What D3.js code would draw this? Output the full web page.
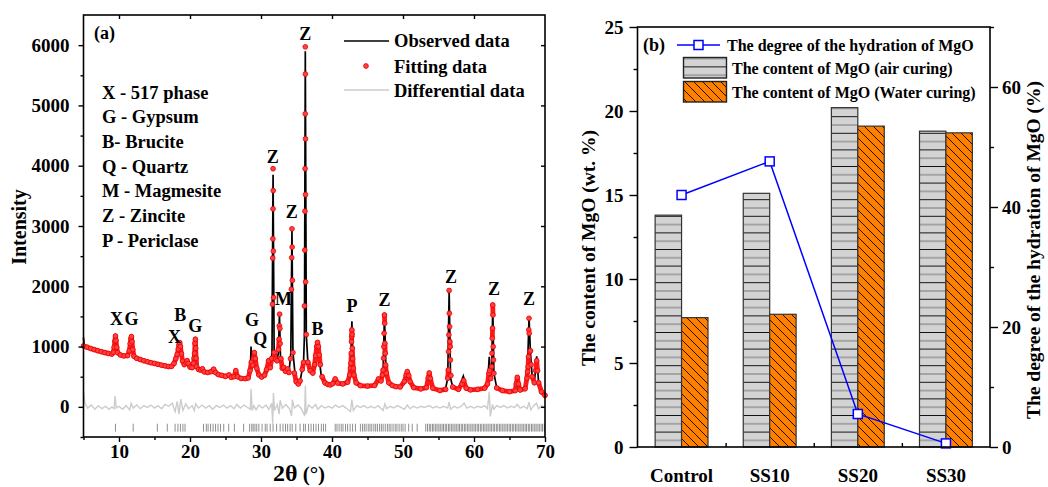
<!DOCTYPE html>
<html>
<head>
<meta charset="utf-8">
<script src="https://d3js.org/d3.v7.min.js"></script>
<style>
  body { margin: 0; background: #fff; }
  svg { display: block; }
  text { font-family: "Liberation Serif", "Times New Roman", serif; font-weight: bold; fill: #000; }
  .axis text { font-size: 19px; }
  .axis path { display: none; }
  .axis line { stroke: #000; stroke-width: 1.4; }
</style>
</head>
<body>
<div id="chart"></div>
<script>
// ---------- panel (a): XRD pattern ----------
var observed = [[5.0,1150],[5.1,1020],[5.5,995],[6.0,975],[6.3,940],[6.5,960],[7.0,935],[7.3,910],[7.5,925],[8.0,905],[8.3,880],[8.5,895],[9.0,880],[9.2,920],[9.4,1130],[9.5,1160],[9.6,1120],[9.8,905],[10.2,865],[10.5,840],[10.8,855],[11.3,880],[11.5,1100],[11.7,1160],[11.85,1100],[12.1,845],[12.5,810],[12.8,780],[13.0,795],[13.5,772],[13.8,750],[14.0,758],[14.5,742],[15.0,738],[15.3,715],[15.5,722],[16.0,708],[16.5,703],[16.8,680],[17.0,692],[17.5,700],[17.9,780],[18.2,900],[18.5,1060],[18.7,1000],[18.9,780],[19.3,720],[19.55,780],[19.8,690],[20.3,650],[20.6,900],[20.75,1160],[20.9,880],[21.2,640],[21.5,640],[21.7,630],[22.0,590],[22.5,580],[23.0,590],[23.3,620],[23.6,580],[24.0,540],[24.5,530],[25.0,510],[25.5,540],[25.8,500],[26.2,510],[26.5,590],[26.8,500],[27.3,480],[27.8,480],[28.2,490],[28.5,600],[28.6,1000],[28.7,620],[28.95,760],[29.1,880],[29.3,760],[29.6,540],[30.0,500],[30.5,540],[30.8,620],[31.1,740],[31.3,640],[31.55,900],[31.7,3850],[31.85,900],[32.1,780],[32.25,760],[32.45,900],[32.6,1540],[32.75,800],[33.0,640],[33.2,660],[33.4,600],[33.7,640],[33.95,580],[34.2,900],[34.36,2950],[34.5,900],[34.8,540],[35.0,400],[35.25,380],[35.5,420],[35.8,620],[36.0,760],[36.12,1200],[36.24,5900],[36.38,1200],[36.6,740],[36.9,600],[37.3,560],[37.7,800],[37.95,1060],[38.2,800],[38.5,500],[39.0,400],[39.5,370],[40.0,380],[40.45,450],[40.8,390],[41.5,380],[42.2,420],[42.6,600],[42.8,1420],[43.0,600],[43.4,400],[44.0,360],[45.0,350],[46.0,360],[46.55,450],[46.9,420],[47.2,600],[47.39,1530],[47.6,600],[48.0,400],[48.5,360],[49.0,340],[49.8,350],[50.3,430],[50.6,570],[50.9,440],[51.5,330],[52.5,300],[53.3,320],[53.7,540],[54.0,330],[55.0,290],[56.0,300],[56.3,480],[56.5,1920],[56.7,480],[57.0,330],[57.8,300],[58.5,510],[58.9,320],[59.5,290],[60.5,300],[61.5,320],[61.9,380],[62.15,830],[62.35,450],[62.5,600],[62.64,1690],[62.8,560],[63.2,320],[64.0,280],[65.0,260],[65.8,280],[66.1,470],[66.4,290],[67.2,300],[67.5,480],[67.75,1480],[67.95,900],[68.2,500],[68.5,400],[68.83,840],[69.1,400],[69.5,260],[70.0,200]];

var fitted = [[5.0,1010],[5.5,990],[6.0,968],[6.5,950],[7.0,932],[7.5,915],[8.0,900],[8.5,886],[9.0,875],[9.2,905],[9.32,990],[9.42,1090],[9.5,1175],[9.58,1100],[9.68,990],[9.8,900],[10.2,860],[10.7,845],[11.2,850],[11.45,930],[11.58,1050],[11.68,1130],[11.75,1165],[11.83,1080],[11.95,950],[12.1,840],[12.5,805],[13.0,785],[13.5,765],[14.0,748],[14.5,732],[15.0,720],[15.5,706],[16.0,692],[16.5,680],[17.0,668],[17.4,672],[17.75,720],[18.0,800],[18.2,870],[18.35,960],[18.45,1030],[18.55,1065],[18.65,1000],[18.8,880],[18.95,760],[19.2,700],[19.45,730],[19.6,765],[19.75,720],[20.0,660],[20.3,650],[20.5,723],[20.58,806],[20.65,889],[20.7,1055],[20.76,1121],[20.8,972],[20.86,806],[20.93,667],[21.2,620],[21.5,610],[21.75,630],[22.0,580],[22.5,570],[23.0,585],[23.33,625],[23.6,570],[24.0,535],[24.5,522],[25.0,505],[25.5,530],[25.8,490],[26.2,500],[26.45,600],[26.7,500],[27.2,472],[27.8,468],[28.2,480],[28.45,600],[28.64,740],[28.82,690],[28.95,800],[29.06,900],[29.2,800],[29.4,640],[29.7,530],[30.1,495],[30.5,525],[30.8,620],[31.07,765],[31.3,650],[31.5,800],[31.62,1702],[31.65,2468],[31.67,2788],[31.69,3284],[31.7,3950],[31.72,3587],[31.74,2584],[31.77,1813],[31.85,900],[32.05,790],[32.25,765],[32.45,950],[32.55,1124],[32.58,1344],[32.62,1537],[32.66,1300],[32.7,1050],[32.8,800],[33.0,640],[33.2,656],[33.45,590],[33.75,628],[33.95,570],[34.15,800],[34.28,1950],[34.32,2474],[34.36,2953],[34.39,2650],[34.42,2099],[34.5,900],[34.7,560],[34.95,420],[35.25,380],[35.5,430],[35.8,620],[36.0,738],[36.12,1674],[36.17,2600],[36.19,3245],[36.21,3950],[36.23,4860],[36.24,5972],[36.25,5520],[36.26,4446],[36.27,3520],[36.29,2072],[36.38,1200],[36.6,740],[36.93,600],[37.3,560],[37.55,700],[37.7,850],[37.85,1000],[37.96,1069],[38.08,1000],[38.2,860],[38.35,700],[38.6,500],[39.0,400],[39.4,372],[39.75,364],[40.1,385],[40.45,463],[40.8,395],[41.5,380],[42.2,410],[42.5,529],[42.6,640],[42.66,723],[42.72,889],[42.75,1082],[42.78,1165],[42.8,1276],[42.83,1200],[42.86,972],[42.92,800],[43.0,640],[43.1,529],[43.4,400],[44.0,352],[45.0,345],[46.0,355],[46.55,463],[46.9,430],[47.1,529],[47.2,612],[47.26,806],[47.3,998],[47.34,1220],[47.39,1524],[47.42,1386],[47.45,1054],[47.5,889],[47.56,695],[47.65,560],[48.0,400],[48.5,355],[49.0,335],[49.6,330],[50.2,420],[50.45,530],[50.6,584],[50.8,520],[51.0,420],[51.5,320],[52.5,298],[53.3,320],[53.55,480],[53.7,562],[53.85,470],[54.2,310],[55.2,272],[56.0,290],[56.3,474],[56.38,612],[56.42,916],[56.46,1193],[56.5,1930],[56.53,1552],[56.56,1330],[56.6,1082],[56.64,998],[56.68,778],[56.75,520],[57.0,330],[57.8,290],[58.3,380],[58.55,435],[58.9,310],[59.5,282],[60.5,290],[61.5,310],[61.9,380],[62.1,557],[62.2,600],[62.35,470],[62.48,667],[62.54,889],[62.58,1137],[62.61,1303],[62.64,1690],[62.67,1524],[62.7,998],[62.74,778],[62.8,557],[63.2,314],[64.0,270],[65.0,252],[65.8,270],[65.95,380],[66.1,490],[66.25,380],[66.5,280],[67.2,300],[67.45,474],[67.55,584],[67.62,667],[67.68,832],[67.72,1276],[67.75,1469],[67.78,1220],[67.85,916],[67.95,930],[68.05,700],[68.2,500],[68.5,400],[68.7,600],[68.83,766],[68.95,600],[69.1,400],[69.5,250],[70.0,190]];

var difference = [[5.0,250],[5.2,60],[5.6,-20],[6.1,30],[6.6,-40],[7.1,20],[7.6,-30],[8.1,10],[8.6,-40],[9.0,0],[9.3,-30],[9.45,180],[9.6,-20],[10.0,10],[10.5,-40],[11.0,20],[11.5,-50],[11.7,60],[12.0,-20],[12.5,30],[13.0,-30],[13.5,20],[14.0,-10],[14.5,30],[15.0,-20],[15.5,20],[16.0,-30],[16.5,40],[17.0,10],[17.5,60],[17.9,-80],[18.2,90],[18.45,-120],[18.7,130],[19.0,-60],[19.4,50],[19.8,-30],[20.3,20],[20.6,-60],[20.8,50],[21.2,-20],[21.7,30],[22.2,-20],[22.7,20],[23.2,-40],[23.7,20],[24.2,-10],[24.7,30],[25.2,-20],[25.7,20],[26.2,-30],[26.6,40],[27.1,-20],[27.6,30],[28.1,-10],[28.5,-40],[28.6,300],[28.75,-60],[29.0,20],[29.3,-50],[29.7,30],[30.2,-20],[30.7,30],[31.1,-40],[31.5,60],[31.65,-280],[31.75,230],[31.9,-60],[32.3,40],[32.55,-120],[32.7,110],[33.0,-20],[33.5,40],[34.0,-30],[34.3,-150],[34.42,120],[34.7,-20],[35.2,30],[35.7,-30],[36.15,-150],[36.25,350],[36.35,-120],[36.7,30],[37.2,-20],[37.7,40],[38.0,-40],[38.5,20],[39.0,-20],[39.5,10],[40.0,-20],[40.5,30],[41.0,-10],[41.5,20],[42.0,-20],[42.6,-80],[42.8,120],[43.0,-60],[43.5,20],[44.0,-10],[44.5,20],[45.0,-20],[45.5,10],[46.0,-20],[46.5,20],[47.2,-60],[47.45,50],[47.7,-30],[48.2,10],[48.7,-20],[49.2,20],[49.7,-10],[50.2,-40],[50.6,30],[51.0,-30],[51.5,10],[52.0,-20],[52.5,10],[53.0,-10],[53.7,20],[54.2,-20],[54.7,10],[55.2,-20],[55.7,10],[56.3,-20],[56.5,80],[56.7,-40],[57.2,10],[57.7,-20],[58.2,10],[58.6,60],[59.0,-20],[59.5,10],[60.0,-20],[60.5,10],[61.0,-10],[61.5,20],[61.9,-30],[62.15,250],[62.3,-160],[62.6,40],[62.8,-40],[63.2,20],[63.7,-10],[64.2,20],[64.7,-20],[65.2,10],[65.7,-10],[66.1,40],[66.5,-20],[67.0,10],[67.5,-30],[67.75,80],[68.0,-50],[68.4,20],[68.8,60],[69.1,-30],[69.5,20],[70.0,-10]];

var braggPositions = [9.5,12.0,15.4,16.8,17.9,18.3,18.65,19.0,19.3,21.9,22.3,22.55,22.9,23.25,23.6,23.95,24.3,24.75,25.45,26.25,27.55,28.4,28.7,28.9,29.15,29.4,29.7,30.15,30.6,30.85,31.3,31.7,32.2,32.7,33.1,33.45,33.75,34.1,34.4,34.9,35.5,36.0,36.25,36.7,37.05,37.4,37.75,38.1,38.5,38.8,39.1,40.45,40.7,41.0,41.3,41.55,41.9,42.2,42.55,42.9,43.3,44.0,44.3,44.55,44.8,45.1,45.35,45.6,45.9,46.15,46.4,46.7,46.95,47.2,47.5,47.8,48.05,48.3,48.6,48.9,49.15,49.45,49.75,50.0,50.3,50.8,51.3,52.0,53.2,53.45,53.7,53.9,54.15,54.35,54.6,54.8,55.05,55.25,55.5,55.7,55.95,56.15,56.4,56.6,56.85,57.05,57.3,57.5,57.75,57.95,58.2,58.4,58.65,58.85,59.1,59.3,59.55,59.75,60.0,60.2,60.45,60.65,60.9,61.1,61.35,61.55,61.8,62.0,62.25,62.45,62.7,62.9,63.15,63.35,63.6,63.8,64.05,64.25,64.5,64.7,64.95,65.15,65.4,65.6,65.85,66.05,66.3,66.5,66.75,66.95,67.2,67.4,67.65,67.85,68.1,68.3,68.55,68.75,69.0,69.2,69.45,69.65,69.9];

var xTicksA = [10, 20, 30, 40, 50, 60, 70];
var yTicksA = [0, 1000, 2000, 3000, 4000, 5000, 6000];

var phaseKey = ["X - 517 phase", "G - Gypsum", "B- Brucite", "Q - Quartz", "M - Magmesite", "Z - Zincite", "P - Periclase"];
// peak letters placed at [2theta, intensity of the baseline]
var peakLabels = [["Z",36.23,6080],["Z",31.67,4045],["Z",34.34,3128],["M",33.17,1690],["X",9.64,1358],["G",11.75,1358],
  ["B",18.64,1430],["X",17.8,1065],["G",20.75,1247],["G",28.73,1342],["Q",29.9,1027],["B",37.96,1193],
  ["P",42.8,1579],["Z",47.39,1673],["Z",56.77,2055],["Z",62.82,1856],["Z",67.75,1690]];

// ---------- panel (b): MgO content ----------
var samples = ["Control", "SS10", "SS20", "SS30"];
var mgoAir = [13.8, 15.1, 20.2, 18.8];
var mgoWater = [7.7, 7.9, 19.1, 18.7];
var hydration = [42.0, 47.6, 5.5, 0.6];
var yTicksB = [0, 5, 10, 15, 20, 25];
var y2TicksB = [0, 20, 40, 60];

var W = 1048, H = 487;
var svg = d3.select("#chart").append("svg").attr("width", W).attr("height", H);

var defs = svg.append("defs");
var pAir = defs.append("pattern").attr("id", "hatchAir").attr("patternUnits", "userSpaceOnUse")
  .attr("width", 10).attr("height", 16.6);
pAir.append("rect").attr("width", 10).attr("height", 16.6).attr("fill", "#d3d3d3");
pAir.append("line").attr("x1", 0).attr("x2", 10).attr("y1", 0.5).attr("y2", 0.5).attr("stroke", "#111").attr("stroke-width", 1);
pAir.append("line").attr("x1", 0).attr("x2", 10).attr("y1", 8.8).attr("y2", 8.8).attr("stroke", "#777").attr("stroke-width", 1);
var pWat = defs.append("pattern").attr("id", "hatchWater").attr("patternUnits", "userSpaceOnUse")
  .attr("width", 9).attr("height", 9);
pWat.append("rect").attr("width", 9).attr("height", 9).attr("fill", "#ff8000");
pWat.append("path").attr("d", "M0,0L9,9M-3,6L3,12M6,-3L12,3").attr("stroke", "#000").attr("stroke-width", 0.9);

// ===== panel (a) =====
var A = {left: 83.5, right: 545, top: 15, bottom: 437};
var xA = d3.scaleLinear().domain([5, 70]).range([A.left, A.right]);
var yA = d3.scaleLinear().domain([-500, 6500]).range([A.bottom, A.top]);
var gA = svg.append("g");

// bragg positions
gA.append("g").selectAll("line").data(braggPositions).enter().append("line")
  .attr("x1", d => xA(d)).attr("x2", d => xA(d))
  .attr("y1", yA(-280)).attr("y2", yA(-410))
  .attr("stroke", "#8f8f8f").attr("stroke-width", 1);

// differential
gA.append("path").datum(difference)
  .attr("d", d3.line().x(d => xA(d[0])).y(d => yA(d[1])))
  .attr("fill", "none").attr("stroke", "#cccccc").attr("stroke-width", 1.4);

// observed
gA.append("path").datum(observed)
  .attr("d", d3.line().x(d => xA(d[0])).y(d => yA(d[1])))
  .attr("fill", "none").attr("stroke", "#000").attr("stroke-width", 1.7);

// fitted: dense dots merge into a band, isolated ones stay dots
var band = "";
fitted.forEach(function (d, i) {
  var px = xA(d[0]), py = yA(d[1]);
  if (i > 0) {
    var q = fitted[i - 1];
    var dist = Math.hypot(px - xA(q[0]), py - yA(q[1]));
    band += (dist < 11 ? "L" : "M") + px + "," + py;
  } else band += "M" + px + "," + py;
});
gA.append("path").attr("d", band).attr("fill", "none")
  .attr("stroke", "#ff1a1a").attr("stroke-width", 4.8).attr("stroke-linejoin", "round").attr("stroke-linecap", "round");
gA.append("g").selectAll("circle").data(fitted).enter().append("circle")
  .attr("cx", d => xA(d[0])).attr("cy", d => yA(d[1])).attr("r", 2.4)
  .attr("fill", "#ff4040").attr("stroke", "#e80000").attr("stroke-width", 0.8);

// frame & axes
gA.append("rect").attr("x", A.left).attr("y", A.top).attr("width", A.right - A.left).attr("height", A.bottom - A.top)
  .attr("fill", "none").attr("stroke", "#000").attr("stroke-width", 1.6);
gA.append("g").attr("class", "axis").attr("transform", "translate(0," + A.bottom + ")")
  .call(d3.axisBottom(xA).tickValues(xTicksA).tickSize(5).tickSizeOuter(0).tickPadding(3));
gA.append("g").attr("class", "axis").attr("transform", "translate(0," + A.bottom + ")")
  .call(d3.axisBottom(xA).tickValues(xTicksA.map(v => v - 5)).tickSize(3).tickFormat(""));
gA.append("g").attr("class", "axis").attr("transform", "translate(0," + A.top + ")")
  .call(d3.axisBottom(xA).tickValues(xTicksA.slice(0, -1)).tickSize(4).tickFormat(""));
gA.append("g").attr("class", "axis").attr("transform", "translate(" + A.left + ",0)")
  .call(d3.axisLeft(yA).tickValues(yTicksA).tickSize(5).tickPadding(9).tickFormat(d3.format("d")));
gA.append("g").attr("class", "axis").attr("transform", "translate(" + A.left + ",0)")
  .call(d3.axisLeft(yA).tickValues(yTicksA.slice(0, -1).map(v => v + 500).concat([-500])).tickSize(3).tickFormat(""));
gA.append("g").attr("class", "axis").attr("transform", "translate(" + A.right + ",0)")
  .call(d3.axisLeft(yA).tickValues(yTicksA).tickSize(4).tickFormat(""));

gA.append("text").attr("transform", "translate(26," + 227 + ") rotate(-90)")
  .attr("text-anchor", "middle").style("font-size", "20px").text("Intensity");
var xt = gA.append("text").attr("x", 299).attr("y", 481).attr("text-anchor", "middle");
xt.append("tspan").style("font-size", "24px").text("2θ");
xt.append("tspan").style("font-size", "21px").text(" (°)");

gA.append("text").attr("x", 94).attr("y", 39).style("font-size", "18px").text("(a)");
gA.selectAll(".phase").data(phaseKey).enter().append("text").attr("class", "phase")
  .attr("x", 102).attr("y", (d, i) => 98.5 + i * 24.7).style("font-size", "18.5px").text(d => d);
gA.selectAll(".peak").data(peakLabels).enter().append("text").attr("class", "peak")
  .attr("x", d => xA(d[1])).attr("y", d => yA(d[2])).attr("text-anchor", "middle")
  .style("font-size", "18px").text(d => d[0]);

// legend (a)
gA.append("line").attr("x1", 344).attr("x2", 389).attr("y1", 41).attr("y2", 41).attr("stroke", "#000").attr("stroke-width", 1.5);
gA.append("circle").attr("cx", 366).attr("cy", 66).attr("r", 2.4).attr("fill", "#ff4040").attr("stroke", "#e80000").attr("stroke-width", 0.8);
gA.append("line").attr("x1", 344).attr("x2", 389).attr("y1", 90).attr("y2", 90).attr("stroke", "#cccccc").attr("stroke-width", 1.5);
[["Observed data", 47], ["Fitting data", 72.5], ["Differential data", 97]].forEach(function (t) {
  gA.append("text").attr("x", 394).attr("y", t[1]).style("font-size", "18.5px").text(t[0]);
});

// ===== panel (b) =====
var B = {left: 637.5, right: 990, top: 27, bottom: 447};
var xB = d3.scaleBand().domain(samples).range([B.left, B.right]);
var yB = d3.scaleLinear().domain([0, 25]).range([B.bottom, B.top]);
var y2B = d3.scaleLinear().domain([0, 70]).range([B.bottom, B.top]);
var bw = xB.bandwidth() * 0.3;
var gB = svg.append("g");

gB.selectAll(".air").data(samples).enter().append("rect").attr("class", "air")
  .attr("x", d => xB(d) + xB.bandwidth() / 2 - bw).attr("width", bw)
  .attr("y", (d, i) => yB(mgoAir[i])).attr("height", (d, i) => yB(0) - yB(mgoAir[i]))
  .attr("fill", "url(#hatchAir)").attr("stroke", "#333").attr("stroke-width", 1.2);
gB.selectAll(".wat").data(samples).enter().append("rect").attr("class", "wat")
  .attr("x", d => xB(d) + xB.bandwidth() / 2).attr("width", bw)
  .attr("y", (d, i) => yB(mgoWater[i])).attr("height", (d, i) => yB(0) - yB(mgoWater[i]))
  .attr("fill", "url(#hatchWater)").attr("stroke", "#333").attr("stroke-width", 1.2);

gB.append("path").datum(hydration)
  .attr("d", d3.line().x((d, i) => xB(samples[i]) + xB.bandwidth() / 2).y(d => y2B(d)))
  .attr("fill", "none").attr("stroke", "#0000ff").attr("stroke-width", 1.5);
gB.selectAll(".mk").data(hydration).enter().append("rect").attr("class", "mk")
  .attr("x", (d, i) => xB(samples[i]) + xB.bandwidth() / 2 - 4.5).attr("y", d => y2B(d) - 4.5)
  .attr("width", 9).attr("height", 9).attr("fill", "#fff").attr("stroke", "#0000ff").attr("stroke-width", 1.5);

gB.append("rect").attr("x", B.left).attr("y", B.top).attr("width", B.right - B.left).attr("height", B.bottom - B.top)
  .attr("fill", "none").attr("stroke", "#000").attr("stroke-width", 1.6);
gB.append("g").attr("class", "axis").attr("transform", "translate(" + B.left + ",0)")
  .call(d3.axisLeft(yB).tickValues(yTicksB).tickSize(8).tickPadding(6));
gB.append("g").attr("class", "axis").attr("transform", "translate(" + B.left + ",0)")
  .call(d3.axisLeft(yB).tickValues(yTicksB.slice(0, -1).map(v => v + 2.5)).tickSize(4).tickFormat(""));
gB.append("g").attr("class", "axis").attr("transform", "translate(" + B.right + ",0)")
  .call(d3.axisRight(y2B).tickValues(y2TicksB).tickSize(8).tickPadding(4));
gB.append("g").attr("class", "axis").attr("transform", "translate(" + B.right + ",0)")
  .call(d3.axisRight(y2B).tickValues(y2TicksB.map(v => v + 10)).tickSize(4).tickFormat(""));
gB.append("g").attr("class", "axis").attr("transform", "translate(0," + B.bottom + ")")
  .call(d3.axisBottom(xB).tickSize(0).tickPadding(22));
gB.append("g").attr("class", "axis").attr("transform", "translate(0," + B.bottom + ")")
  .call(d3.axisTop(d3.scaleLinear().domain([0, 4]).range([B.left, B.right])).tickValues([1, 2, 3]).tickSize(4).tickFormat(""));

gB.append("text").attr("transform", "translate(595,248) rotate(-90)").attr("text-anchor", "middle")
  .style("font-size", "19.5px").text("The content of MgO (wt. %)");
gB.append("text").attr("transform", "translate(1040,250) rotate(-90)").attr("text-anchor", "middle")
  .style("font-size", "19.5px").text("The degree of the hydration of MgO (%)");

// legend (b)
gB.append("text").attr("x", 643).attr("y", 51).style("font-size", "18px").text("(b)");
gB.append("line").attr("x1", 677).attr("x2", 720).attr("y1", 45).attr("y2", 45).attr("stroke", "#0000ff").attr("stroke-width", 1.5);
gB.append("rect").attr("x", 694).attr("y", 40.5).attr("width", 9).attr("height", 9).attr("fill", "#fff").attr("stroke", "#0000ff").attr("stroke-width", 1.5);
gB.append("rect").attr("x", 683.5).attr("y", 57.5).attr("width", 43).attr("height", 20.5).attr("fill", "url(#hatchAir)").attr("stroke", "#222").attr("stroke-width", 1.4);
gB.append("rect").attr("x", 683.5).attr("y", 81.5).attr("width", 43).attr("height", 20.5).attr("fill", "url(#hatchWater)").attr("stroke", "#222").attr("stroke-width", 1.4);
[["The degree of the hydration of MgO", 727, 51], ["The content of MgO (air curing)", 732, 74], ["The content of MgO (Water curing)", 732, 98]].forEach(function (t) {
  gB.append("text").attr("x", t[1]).attr("y", t[2]).style("font-size", "16px").text(t[0]);
});
</script>
</body>
</html>
